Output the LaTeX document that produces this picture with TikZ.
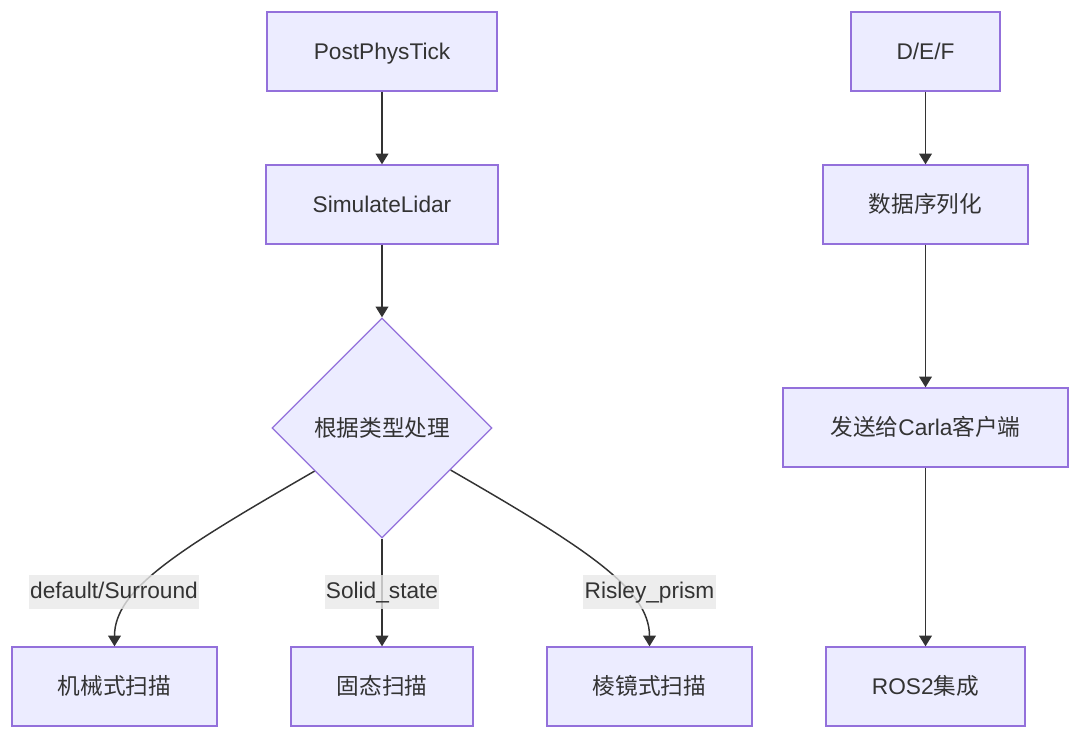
\documentclass[tikz,border=0pt]{standalone}
\usepackage{fontspec}
\setmainfont{Liberation Sans}
\newfontfamily\cjk{Noto Sans CJK SC}
\usetikzlibrary{shapes.geometric,arrows.meta,calc}
\definecolor{boxfill}{HTML}{ECECFF}
\definecolor{boxline}{HTML}{9370DB}
\definecolor{inkgray}{HTML}{333333}
\definecolor{labelbg}{HTML}{E8E8E8}

\begin{document}
\begin{tikzpicture}[x=0.75pt,y=-0.75pt,
    every node/.style={font=\fontsize{17}{20}\selectfont,text=inkgray,text height=13pt,text depth=1pt},
    box/.style={draw=boxline,fill=boxfill,line width=1pt,minimum height=59.25pt,inner sep=0pt},
    choice/.style={diamond,draw=boxline,fill=boxfill,line width=1pt,minimum size=165pt,inner sep=0pt},
    flow/.style={draw=inkgray,line width=1.1pt,-{Triangle[length=8pt,width=9.5pt]}},
    tag/.style={fill=labelbg,fill opacity=0.8,text opacity=1,inner xsep=1pt,inner ysep=0pt,minimum height=25.5pt,text height=12.5pt,text depth=3pt}]
          \useasboundingbox (0,0) rectangle (1080,738);

          % lidar branch
          \node[box,minimum width=172.5pt] (tick) at (382,51.5) {PostPhysTick};
          \node[box,minimum width=174pt] (lidar) at (382,204.5) {SimulateLidar};
          \node[choice] (kind) at (382,428) {\cjk 根据类型处理};
          \node[box,minimum width=153.75pt] (mech) at (114.5,686.5) {\cjk 机械式扫描};
          \node[box,minimum width=136.5pt] (solid) at (382,686.5) {\cjk 固态扫描};
          \node[box,minimum width=153.75pt] (prism) at (649.5,686.5) {\cjk 棱镜式扫描};

          % output branch
          \node[box,minimum width=111.75pt] (def) at (925.5,51.5) {D/E/F};
          \node[box,minimum width=153.75pt] (ser) at (925.5,204.5) {\cjk 数据序列化};
          \node[box,minimum width=213.75pt] (send) at (925.5,427.5) {{\cjk 发送给}Carla{\cjk 客户端}};
          \node[box,minimum width=149.25pt] (ros) at (925.5,686.5) {ROS2{\cjk 集成}};

          \draw[flow] (tick) -- (lidar);
          \draw[flow] (lidar) -- (kind);
          \draw[flow] ($(kind.west)!0.39!(kind.south)$) to[out=210,in=90,out distance=117pt,in distance=43pt] (mech);
          \draw[flow] (kind) -- (solid);
          \draw[flow] ($(kind.east)!0.38!(kind.south)$) to[out=-30,in=90,out distance=117pt,in distance=43pt] (prism);

          \draw[flow] (def) -- (ser);
          \draw[flow] (ser) -- (send);
          \draw[flow] (send) -- (ros);

          \node[tag] (surround) at (114,592) {default/Surround};
          \node[tag] (solidtag) at (382,592) {Solid\_state};
          \node[tag] (risley) at (649.5,592) {Risley\_prism};
        \end{tikzpicture}
\end{document}
